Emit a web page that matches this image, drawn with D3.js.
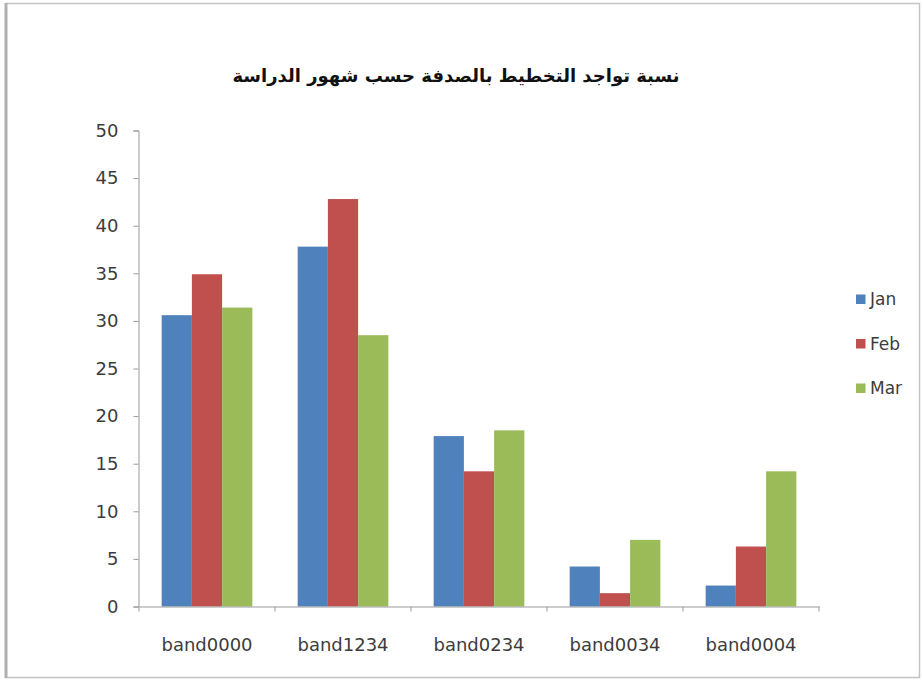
<!DOCTYPE html>
<html><head><meta charset="utf-8">
<script src="https://cdn.jsdelivr.net/npm/d3@7"></script>
<style>body{margin:0;background:#fff}svg{display:block}</style>
</head><body>
<script>
const categories = ["band0000","band1234","band0234","band0034","band0004"];
const seriesNames = ["Jan","Feb","Mar"];
const janValues = [30.6, 37.8, 17.9, 4.2, 2.2];
const febValues = [34.9, 42.8, 14.2, 1.4, 6.3];
const marValues = [31.4, 28.5, 18.5, 7.0, 14.2];
const yTicks = [0,5,10,15,20,25,30,35,40,45,50];
const titleText = "نسبة تواجد التخطيط بالصدفة حسب شهور الدراسة";

const colors = ["#4F81BD","#C0504D","#9BBB59"];
const series = [janValues, febValues, marValues];

const W = 923, H = 682;
const svg = d3.select("body").append("svg").attr("width", W).attr("height", H);

// frame
svg.append("rect").attr("x",6).attr("y",3.5).attr("width",913.5).attr("height",674)
  .attr("fill","#fff").attr("stroke","#c4c4c4").attr("stroke-width",1.5);
svg.append("line").attr("x1",6).attr("x2",6).attr("y1",3).attr("y2",678)
  .attr("stroke","#b0b0b0").attr("stroke-width",3);

const pLeft = 139, pRight = 819, pTop = 130.5, pBottom = 606.5;
const x = d3.scaleBand().domain(categories).range([pLeft, pRight]).paddingInner(0).paddingOuter(0);
const y = d3.scaleLinear().domain([0,50]).range([pBottom, pTop]);
const bw = x.bandwidth()/4.5;

const g = svg.append("g");
categories.forEach((c, i) => {
  series.forEach((vals, s) => {
    g.append("rect")
      .attr("x", x(c) + x.bandwidth()/2 - 1.5*bw + s*bw)
      .attr("y", y(vals[i]))
      .attr("width", bw)
      .attr("height", y(0) - y(vals[i]))
      .attr("fill", colors[s]);
  });
});

const font = "'DejaVu Sans', sans-serif";
const txtColor = "#3c3c3c";

// y axis
const yAxis = svg.append("g").attr("transform", `translate(${pLeft-0.5},0)`)
  .call(d3.axisLeft(y).tickValues(yTicks).tickSize(5).tickPadding(15));
yAxis.select(".domain").attr("stroke","#9a9a9a");
yAxis.selectAll(".tick line").attr("stroke","#9a9a9a");
yAxis.selectAll("text").attr("fill",txtColor).style("font-family",font).style("font-size","18px");

// x axis
const xAxis = svg.append("g").attr("transform", `translate(0,${pBottom})`)
  .call(d3.axisBottom(x).tickSize(0).tickPadding(32));
xAxis.select(".domain").attr("stroke","#9a9a9a");
xAxis.selectAll("text").attr("fill",txtColor).style("font-family",font).style("font-size","18px");
// boundary ticks
const bounds = categories.map(c => x(c)).concat([pRight]);
svg.append("g").selectAll("line").data(bounds).join("line")
  .attr("x1", d => d).attr("x2", d => d).attr("y1", pBottom).attr("y2", pBottom+5)
  .attr("stroke","#9a9a9a");

// title
svg.append("text").attr("x", 456).attr("y", 82).attr("text-anchor","middle")
  .attr("direction","rtl")
  .style("font-family",font).style("font-size","18px").style("font-weight","bold")
  .attr("fill","#111").text(titleText);

// legend
const leg = svg.append("g");
seriesNames.forEach((n, i) => {
  const ly = 299 + i*44.5;
  leg.append("rect").attr("x",856).attr("y",ly-4.5).attr("width",9.5).attr("height",9.5).attr("fill",colors[i]);
  leg.append("text").attr("x",870).attr("y",ly+6).text(n)
    .style("font-family",font).style("font-size","17px").attr("fill",txtColor);
});
</script>
</body></html>
